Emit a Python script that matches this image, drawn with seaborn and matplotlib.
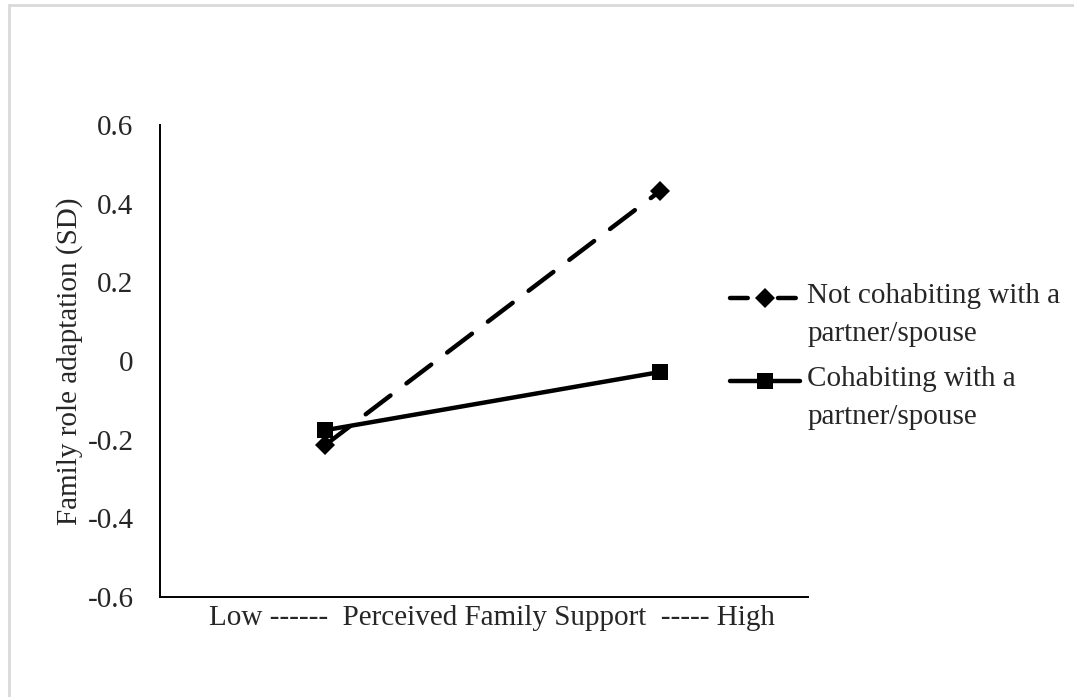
import matplotlib
matplotlib.use("Agg")
import matplotlib.pyplot as plt
import seaborn as sns
import pandas as pd
import numpy as np
from matplotlib.patches import Rectangle
from matplotlib.legend_handler import HandlerLine2D
from matplotlib.lines import Line2D

# Simple-slopes data: family role adaptation at low / high perceived family support
support_levels = ["Low", "High"]
not_cohabiting = [-0.214, 0.432]
cohabiting = [-0.176, -0.028]
series_labels = ["Not cohabiting with a\npartner/spouse", "Cohabiting with a\npartner/spouse"]
y_ticks = [-0.6, -0.4, -0.2, 0.0, 0.2, 0.4, 0.6]
y_tick_labels = ["-0.6", "-0.4", "-0.2", "0", "0.2", "0.4", "0.6"]
x_title = "Low ------  Perceived Family Support  ----- High"
y_title = "Family role adaptation (SD)"

sns.set_theme(style="white")
plt.rcParams["font.family"] = ["Liberation Serif", "DejaVu Serif"]
FS = 21


class TopLineHandler(HandlerLine2D):
    """Legend handle aligned with the first line of a two-line label."""

    def __init__(self, shift, dashes=None, **kw):
        super().__init__(**kw)
        self.shift = shift
        self.dashes = dashes

    def create_artists(self, legend, orig_handle, xdescent, ydescent,
                       width, height, fontsize, trans):
        arts = super().create_artists(legend, orig_handle, xdescent, ydescent,
                                      width, height, fontsize, trans)
        for a in arts:
            if isinstance(a, Line2D):
                a.set_ydata(np.asarray(a.get_ydata()) + self.shift * fontsize)
                if self.dashes is not None and a.get_linestyle() not in ("None", "", " "):
                    a.set_dashes(self.dashes)
        return arts


fig = plt.figure(figsize=(10.74, 6.97), dpi=100)
ax = fig.add_axes([160 / 1074, 1 - 597 / 697, 648 / 1074, 472 / 697])

pos = list(range(len(support_levels)))
df_a = pd.DataFrame({"support": pos, "value": not_cohabiting})
df_b = pd.DataFrame({"support": pos, "value": cohabiting})

sns.lineplot(data=df_a, x="support", y="value", ax=ax, color="black",
             linewidth=3.2, marker="D", markersize=10, markeredgewidth=0,
             label=series_labels[0])
sns.lineplot(data=df_b, x="support", y="value", ax=ax, color="black",
             linewidth=3.2, marker="s", markersize=11, markeredgewidth=0,
             label=series_labels[1])
line_a, line_b = ax.lines[0], ax.lines[1]
line_a.set_dashes([7, 4.5])
line_a.set_dash_capstyle("round")
line_b.set_solid_capstyle("round")

ax.set_xlim(-165 / 335, 1 + 148 / 335)
ax.set_ylim(-0.6, 0.6)
ax.set_yticks(y_ticks)
ax.set_yticklabels(y_tick_labels, fontsize=FS)
ax.set_xticks([])
ax.tick_params(axis="y", length=0, pad=19)
ax.set_xlabel(x_title, fontsize=FS)
ax.xaxis.set_label_coords(0.5 + 8 / 648, -0.016)
ax.set_ylabel(y_title, fontsize=FS, labelpad=3)

for side in ["top", "right"]:
    ax.spines[side].set_visible(False)
for side in ["left", "bottom"]:
    ax.spines[side].set_color("black")
    ax.spines[side].set_linewidth(1.4)

leg = ax.legend(handles=[line_a, line_b], labels=series_labels,
                loc="upper left", bbox_to_anchor=((730 - 160) / 648, 0.666),
                frameon=False, fontsize=FS, handlelength=2.4,
                handletextpad=0.25, labelspacing=0.66, borderaxespad=0,
                borderpad=0,
                handler_map={line_a: TopLineHandler(0.58, dashes=[4, 6.8]),
                             line_b: TopLineHandler(0.58)})
for t in leg.get_texts():
    t.set_linespacing(1.6)

# light chart-area border
fig.patches.append(Rectangle((9 / 1074, -0.05), 1.2, 1 - 5 / 697 + 0.05,
                             transform=fig.transFigure, fill=False,
                             edgecolor="#d9d9d9", linewidth=2, zorder=0))

fig.savefig("out.png", dpi=100, facecolor="white")
